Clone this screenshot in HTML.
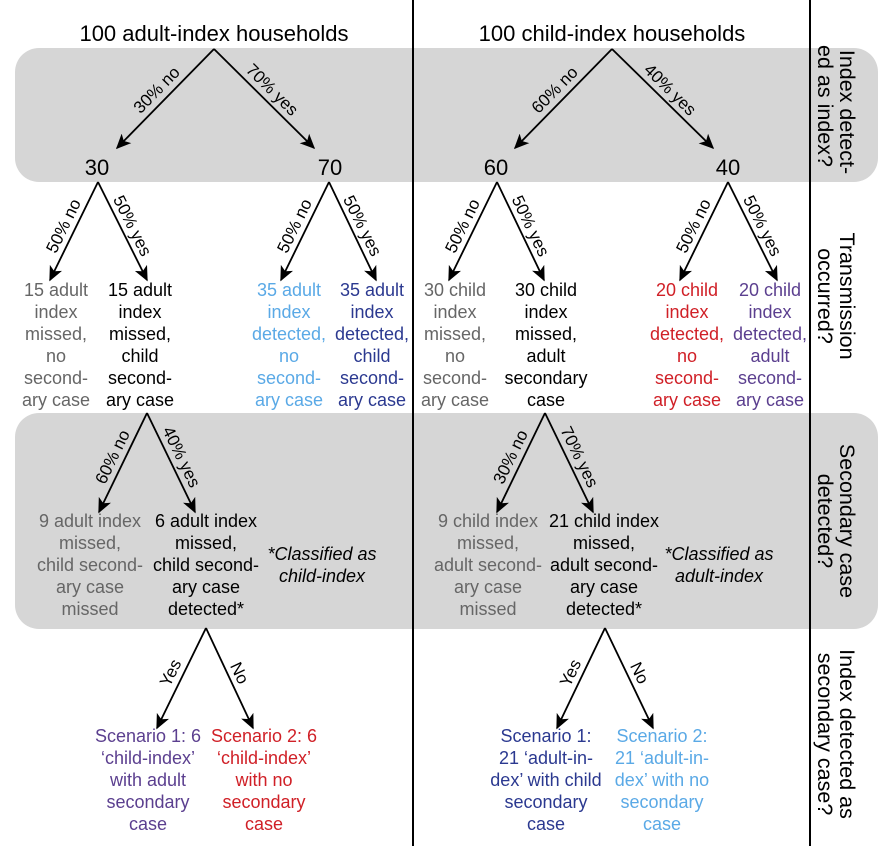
<!DOCTYPE html>
<html><head><meta charset="utf-8"><style>
html,body{margin:0;padding:0;background:#fff;}
svg{display:block;font-family:"Liberation Sans",Arial,sans-serif;}
</style></head><body>
<svg width="888" height="858" viewBox="0 0 888 858" xmlns="http://www.w3.org/2000/svg">
<defs>
<marker id="ah" viewBox="0 0 10 10" refX="9" refY="5" markerWidth="15" markerHeight="15" markerUnits="userSpaceOnUse" orient="auto">
<path d="M0,0.5 L10,5 L0,9.5 L2.5,5 z" fill="#000"/>
</marker>
</defs>
<rect x="15" y="48" width="863" height="134" rx="24" fill="#d6d6d6"/>
<rect x="15" y="413" width="863" height="216" rx="24" fill="#d6d6d6"/>
<line x1="413" y1="0" x2="413" y2="846" stroke="#000" stroke-width="2"/>
<line x1="810" y1="0" x2="810" y2="846" stroke="#000" stroke-width="2"/>

<g font-size="22" text-anchor="middle" fill="#000">
<text x="214" y="41">100 adult-index households</text>
<text x="612" y="41">100 child-index households</text>
<text x="97" y="175">30</text>
<text x="330" y="175">70</text>
<text x="496" y="175">60</text>
<text x="728" y="175">40</text>
</g>

<g stroke="#000" stroke-width="1.8" fill="none" marker-end="url(#ah)">
<line x1="214" y1="49" x2="117" y2="148"/>
<line x1="214" y1="49" x2="314" y2="148"/>
<line x1="98" y1="182" x2="50" y2="280"/>
<line x1="98" y1="182" x2="147" y2="280"/>
<line x1="329" y1="182" x2="281" y2="280"/>
<line x1="329" y1="182" x2="376" y2="280"/>
<line x1="612" y1="49" x2="515" y2="148"/>
<line x1="612" y1="49" x2="713" y2="148"/>
<line x1="497" y1="182" x2="449" y2="280"/>
<line x1="497" y1="182" x2="544" y2="280"/>
<line x1="728" y1="182" x2="680" y2="280"/>
<line x1="728" y1="182" x2="777" y2="280"/>
<line x1="147" y1="413" x2="99" y2="512"/>
<line x1="147" y1="413" x2="195" y2="512"/>
<line x1="545" y1="413" x2="497" y2="512"/>
<line x1="545" y1="413" x2="593" y2="512"/>
<line x1="206" y1="628" x2="157" y2="728"/>
<line x1="206" y1="628" x2="253" y2="728"/>
<line x1="605" y1="628" x2="557" y2="728"/>
<line x1="605" y1="628" x2="653" y2="728"/>
</g>

<g font-size="17" text-anchor="middle" fill="#000">
<text transform="translate(165,98) rotate(-45.6)" y="-6">30% no</text>
<text transform="translate(264,98) rotate(44.7)" y="-6">70% yes</text>
<text transform="translate(74,231) rotate(-63.9)" y="-6">50% no</text>
<text transform="translate(122,231) rotate(63.4)" y="-6">50% yes</text>
<text transform="translate(305,231) rotate(-63.9)" y="-6">50% no</text>
<text transform="translate(352,231) rotate(63.4)" y="-6">50% yes</text>
<text transform="translate(563,98) rotate(-45.6)" y="-6">60% no</text>
<text transform="translate(662,98) rotate(44.5)" y="-6">40% yes</text>
<text transform="translate(473,231) rotate(-63.9)" y="-6">50% no</text>
<text transform="translate(520,231) rotate(64.4)" y="-6">50% yes</text>
<text transform="translate(704,231) rotate(-63.9)" y="-6">50% no</text>
<text transform="translate(752,231) rotate(63.4)" y="-6">50% yes</text>
<text transform="translate(123,462) rotate(-64.1)" y="-6">60% no</text>
<text transform="translate(171,462) rotate(64.1)" y="-6">40% yes</text>
<text transform="translate(521,462) rotate(-64.1)" y="-6">30% no</text>
<text transform="translate(569,462) rotate(64.1)" y="-6">70% yes</text>
<text transform="translate(181,678) rotate(-63.9)" y="-6">Yes</text>
<text transform="translate(229,678) rotate(64.8)" y="-6">No</text>
<text transform="translate(581,678) rotate(-64.4)" y="-6">Yes</text>
<text transform="translate(629,678) rotate(64.4)" y="-6">No</text>
</g>

<g font-size="18" text-anchor="middle">
<text fill="#666"><tspan x="56" y="296">15 adult</tspan><tspan x="56" y="318">index</tspan><tspan x="56" y="340">missed,</tspan><tspan x="56" y="362">no</tspan><tspan x="56" y="384">second-</tspan><tspan x="56" y="406">ary case</tspan></text>
<text fill="#000"><tspan x="140" y="296">15 adult</tspan><tspan x="140" y="318">index</tspan><tspan x="140" y="340">missed,</tspan><tspan x="140" y="362">child</tspan><tspan x="140" y="384">second-</tspan><tspan x="140" y="406">ary case</tspan></text>
<text fill="#5aa9e6"><tspan x="289" y="296">35 adult</tspan><tspan x="289" y="318">index</tspan><tspan x="289" y="340">detected,</tspan><tspan x="289" y="362">no</tspan><tspan x="289" y="384">second-</tspan><tspan x="289" y="406">ary case</tspan></text>
<text fill="#2b3990"><tspan x="372" y="296">35 adult</tspan><tspan x="372" y="318">index</tspan><tspan x="372" y="340">detected,</tspan><tspan x="372" y="362">child</tspan><tspan x="372" y="384">second-</tspan><tspan x="372" y="406">ary case</tspan></text>
<text fill="#666"><tspan x="455" y="296">30 child</tspan><tspan x="455" y="318">index</tspan><tspan x="455" y="340">missed,</tspan><tspan x="455" y="362">no</tspan><tspan x="455" y="384">second-</tspan><tspan x="455" y="406">ary case</tspan></text>
<text fill="#000"><tspan x="546" y="296">30 child</tspan><tspan x="546" y="318">index</tspan><tspan x="546" y="340">missed,</tspan><tspan x="546" y="362">adult</tspan><tspan x="546" y="384">secondary</tspan><tspan x="546" y="406">case</tspan></text>
<text fill="#d02027"><tspan x="687" y="296">20 child</tspan><tspan x="687" y="318">index</tspan><tspan x="687" y="340">detected,</tspan><tspan x="687" y="362">no</tspan><tspan x="687" y="384">second-</tspan><tspan x="687" y="406">ary case</tspan></text>
<text fill="#5b3f8f"><tspan x="770" y="296">20 child</tspan><tspan x="770" y="318">index</tspan><tspan x="770" y="340">detected,</tspan><tspan x="770" y="362">adult</tspan><tspan x="770" y="384">second-</tspan><tspan x="770" y="406">ary case</tspan></text>

<text fill="#666"><tspan x="90" y="527">9 adult index</tspan><tspan x="90" y="549">missed,</tspan><tspan x="90" y="571">child second-</tspan><tspan x="90" y="593">ary case</tspan><tspan x="90" y="615">missed</tspan></text>
<text fill="#000"><tspan x="206" y="527">6 adult index</tspan><tspan x="206" y="549">missed,</tspan><tspan x="206" y="571">child second-</tspan><tspan x="206" y="593">ary case</tspan><tspan x="206" y="615">detected*</tspan></text>
<text fill="#000" font-style="italic"><tspan x="322" y="560">*Classified as</tspan><tspan x="322" y="582">child-index</tspan></text>
<text fill="#666"><tspan x="488" y="527">9 child index</tspan><tspan x="488" y="549">missed,</tspan><tspan x="488" y="571">adult second-</tspan><tspan x="488" y="593">ary case</tspan><tspan x="488" y="615">missed</tspan></text>
<text fill="#000"><tspan x="604" y="527">21 child index</tspan><tspan x="604" y="549">missed,</tspan><tspan x="604" y="571">adult second-</tspan><tspan x="604" y="593">ary case</tspan><tspan x="604" y="615">detected*</tspan></text>
<text fill="#000" font-style="italic"><tspan x="719" y="560">*Classified as</tspan><tspan x="719" y="582">adult-index</tspan></text>

<text fill="#5b3f8f"><tspan x="148" y="742">Scenario 1: 6</tspan><tspan x="148" y="764">‘child-index’</tspan><tspan x="148" y="786">with adult</tspan><tspan x="148" y="808">secondary</tspan><tspan x="148" y="830">case</tspan></text>
<text fill="#d02027"><tspan x="264" y="742">Scenario 2: 6</tspan><tspan x="264" y="764">‘child-index’</tspan><tspan x="264" y="786">with no</tspan><tspan x="264" y="808">secondary</tspan><tspan x="264" y="830">case</tspan></text>
<text fill="#2b3990"><tspan x="546" y="742">Scenario 1:</tspan><tspan x="546" y="764">21 ‘adult-in-</tspan><tspan x="546" y="786">dex’ with child</tspan><tspan x="546" y="808">secondary</tspan><tspan x="546" y="830">case</tspan></text>
<text fill="#5aa9e6"><tspan x="662" y="742">Scenario 2:</tspan><tspan x="662" y="764">21 ‘adult-in-</tspan><tspan x="662" y="786">dex’ with no</tspan><tspan x="662" y="808">secondary</tspan><tspan x="662" y="830">case</tspan></text>
</g>

<g font-size="21.5" text-anchor="middle" fill="#000">
<text transform="translate(840,112) rotate(90)">Index detect-</text>
<text transform="translate(818,106) rotate(90)">ed as index?</text>
<text transform="translate(840,296) rotate(90)">Transmission</text>
<text transform="translate(818,296) rotate(90)">occurred?</text>
<text transform="translate(840,521) rotate(90)">Secondary case</text>
<text transform="translate(818,521) rotate(90)">detected?</text>
<text transform="translate(840,734) rotate(90)">Index detected as</text>
<text transform="translate(818,734) rotate(90)">secondary case?</text>
</g>
</svg>
</body></html>
